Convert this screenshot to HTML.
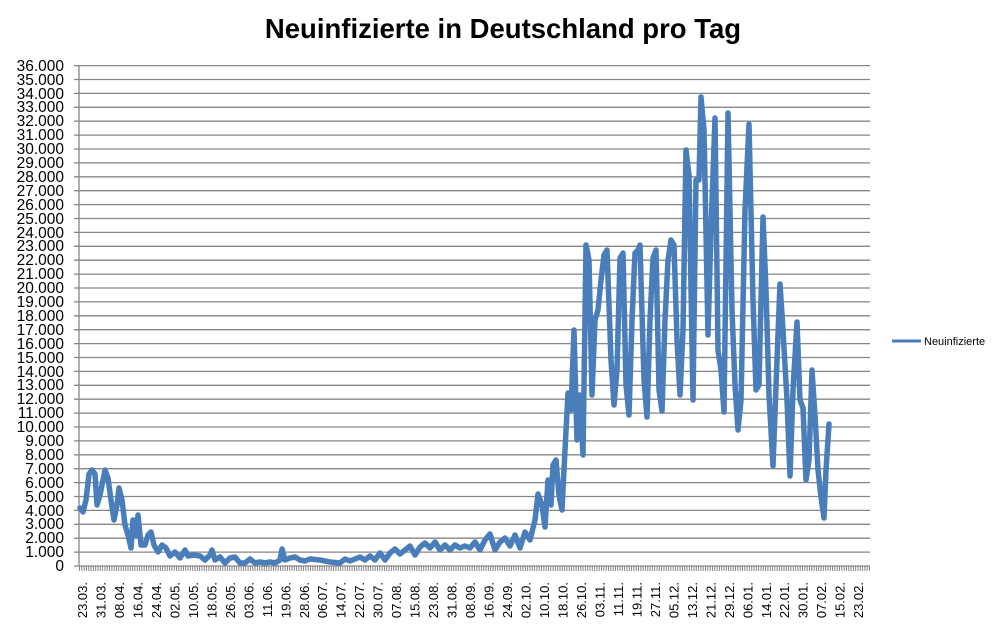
<!DOCTYPE html>
<html><head><meta charset="utf-8"><style>
html,body{margin:0;padding:0;background:#fff;}
svg{display:block;font-family:"Liberation Sans",sans-serif;}
</style></head><body>
<svg width="1003" height="629" viewBox="0 0 1003 629" xmlns="http://www.w3.org/2000/svg">
<text x="503" y="38" text-anchor="middle" font-size="27.5" font-weight="bold" fill="#000">Neuinfizierte in Deutschland pro Tag</text>
<g stroke="#868686" stroke-width="1.3">
<line x1="74" x2="870" y1="65.6" y2="65.6"/><line x1="74" x2="870" y1="79.5" y2="79.5"/><line x1="74" x2="870" y1="93.4" y2="93.4"/><line x1="74" x2="870" y1="107.3" y2="107.3"/><line x1="74" x2="870" y1="121.2" y2="121.2"/><line x1="74" x2="870" y1="135.1" y2="135.1"/><line x1="74" x2="870" y1="149" y2="149"/><line x1="74" x2="870" y1="162.9" y2="162.9"/><line x1="74" x2="870" y1="176.8" y2="176.8"/><line x1="74" x2="870" y1="190.7" y2="190.7"/><line x1="74" x2="870" y1="204.6" y2="204.6"/><line x1="74" x2="870" y1="218.5" y2="218.5"/><line x1="74" x2="870" y1="232.4" y2="232.4"/><line x1="74" x2="870" y1="246.3" y2="246.3"/><line x1="74" x2="870" y1="260.2" y2="260.2"/><line x1="74" x2="870" y1="274.1" y2="274.1"/><line x1="74" x2="870" y1="288" y2="288"/><line x1="74" x2="870" y1="301.9" y2="301.9"/><line x1="74" x2="870" y1="315.8" y2="315.8"/><line x1="74" x2="870" y1="329.7" y2="329.7"/><line x1="74" x2="870" y1="343.6" y2="343.6"/><line x1="74" x2="870" y1="357.5" y2="357.5"/><line x1="74" x2="870" y1="371.4" y2="371.4"/><line x1="74" x2="870" y1="385.3" y2="385.3"/><line x1="74" x2="870" y1="399.2" y2="399.2"/><line x1="74" x2="870" y1="413.1" y2="413.1"/><line x1="74" x2="870" y1="427" y2="427"/><line x1="74" x2="870" y1="440.9" y2="440.9"/><line x1="74" x2="870" y1="454.8" y2="454.8"/><line x1="74" x2="870" y1="468.7" y2="468.7"/><line x1="74" x2="870" y1="482.6" y2="482.6"/><line x1="74" x2="870" y1="496.5" y2="496.5"/><line x1="74" x2="870" y1="510.4" y2="510.4"/><line x1="74" x2="870" y1="524.3" y2="524.3"/><line x1="74" x2="870" y1="538.2" y2="538.2"/><line x1="74" x2="870" y1="552.1" y2="552.1"/><line x1="74" x2="870" y1="566" y2="566"/>
<line x1="79" x2="79" y1="65.6" y2="566"/>
</g>
<line x1="79" x2="870" y1="568.5" y2="568.5" stroke="#868686" stroke-width="5" stroke-dasharray="1 1.31"/>
<g font-size="15.5" text-anchor="end" fill="#000">
<text x="64" y="71">36.000</text><text x="64" y="85">35.000</text><text x="64" y="99">34.000</text><text x="64" y="112">33.000</text><text x="64" y="126">32.000</text><text x="64" y="140">31.000</text><text x="64" y="154">30.000</text><text x="64" y="168">29.000</text><text x="64" y="182">28.000</text><text x="64" y="196">27.000</text><text x="64" y="210">26.000</text><text x="64" y="224">25.000</text><text x="64" y="238">24.000</text><text x="64" y="251">23.000</text><text x="64" y="265">22.000</text><text x="64" y="279">21.000</text><text x="64" y="293">20.000</text><text x="64" y="307">19.000</text><text x="64" y="321">18.000</text><text x="64" y="335">17.000</text><text x="64" y="349">16.000</text><text x="64" y="363">15.000</text><text x="64" y="377">14.000</text><text x="64" y="390">13.000</text><text x="64" y="404">12.000</text><text x="64" y="418">11.000</text><text x="64" y="432">10.000</text><text x="64" y="446">9.000</text><text x="64" y="460">8.000</text><text x="64" y="474">7.000</text><text x="64" y="488">6.000</text><text x="64" y="502">5.000</text><text x="64" y="516">4.000</text><text x="64" y="529">3.000</text><text x="64" y="543">2.000</text><text x="64" y="557">1.000</text><text x="64" y="571">0</text>
</g>
<g font-size="13" text-anchor="end" fill="#000">
<text transform="translate(87,582) rotate(-90)">23.03.</text>
<text transform="translate(105.5,582) rotate(-90)">31.03.</text>
<text transform="translate(124,582) rotate(-90)">08.04.</text>
<text transform="translate(142.4,582) rotate(-90)">16.04.</text>
<text transform="translate(160.9,582) rotate(-90)">24.04.</text>
<text transform="translate(179.4,582) rotate(-90)">02.05.</text>
<text transform="translate(197.9,582) rotate(-90)">10.05.</text>
<text transform="translate(216.4,582) rotate(-90)">18.05.</text>
<text transform="translate(234.8,582) rotate(-90)">26.05.</text>
<text transform="translate(253.3,582) rotate(-90)">03.06.</text>
<text transform="translate(271.8,582) rotate(-90)">11.06.</text>
<text transform="translate(290.3,582) rotate(-90)">19.06.</text>
<text transform="translate(308.8,582) rotate(-90)">28.06.</text>
<text transform="translate(327.2,582) rotate(-90)">06.07.</text>
<text transform="translate(345.7,582) rotate(-90)">14.07.</text>
<text transform="translate(364.2,582) rotate(-90)">22.07.</text>
<text transform="translate(382.7,582) rotate(-90)">30.07.</text>
<text transform="translate(401.2,582) rotate(-90)">07.08.</text>
<text transform="translate(419.6,582) rotate(-90)">15.08.</text>
<text transform="translate(438.1,582) rotate(-90)">23.08.</text>
<text transform="translate(456.6,582) rotate(-90)">31.08.</text>
<text transform="translate(475.1,582) rotate(-90)">08.09.</text>
<text transform="translate(493.6,582) rotate(-90)">16.09.</text>
<text transform="translate(512,582) rotate(-90)">24.09.</text>
<text transform="translate(530.5,582) rotate(-90)">02.10.</text>
<text transform="translate(549,582) rotate(-90)">10.10.</text>
<text transform="translate(567.5,582) rotate(-90)">18.10.</text>
<text transform="translate(586,582) rotate(-90)">26.10.</text>
<text transform="translate(604.4,582) rotate(-90)">03.11.</text>
<text transform="translate(622.9,582) rotate(-90)">11.11.</text>
<text transform="translate(641.4,582) rotate(-90)">19.11.</text>
<text transform="translate(659.9,582) rotate(-90)">27.11.</text>
<text transform="translate(678.4,582) rotate(-90)">05.12.</text>
<text transform="translate(696.8,582) rotate(-90)">13.12.</text>
<text transform="translate(715.3,582) rotate(-90)">21.12.</text>
<text transform="translate(733.8,582) rotate(-90)">29.12.</text>
<text transform="translate(752.3,582) rotate(-90)">06.01.</text>
<text transform="translate(770.8,582) rotate(-90)">14.01.</text>
<text transform="translate(789.2,582) rotate(-90)">22.01.</text>
<text transform="translate(807.7,582) rotate(-90)">30.01.</text>
<text transform="translate(826.2,582) rotate(-90)">07.02.</text>
<text transform="translate(844.7,582) rotate(-90)">15.02.</text>
<text transform="translate(863.2,582) rotate(-90)">23.02.</text>
</g>
<polyline fill="none" stroke="#4a7ebb" stroke-width="5.5" stroke-linejoin="round" stroke-linecap="round" points="80,508 83,512 86,500 89,474 92,470 95,474 97,505 100,495 103,480 105,470 108,478 111,500 114,520 117,505 119,488 122,500 125,525 128,535 131,548 133,520 136,535 138,515 141,545 145,545 148,535 151,532 154,545 158,552 162,545 166,548 170,556 175,552 180,558 185,550 188,556 193,555 200,556 205,560 210,555 212,550 215,560 220,557 225,563 230,558 235,557 240,563 245,563 250,559 255,563 260,562 265,563 270,562 275,563 280,560 282,549 285,560 290,558 295,557 300,560 305,561 310,559 320,560 330,562 340,563 345,559 350,561 355,559 360,557 365,560 370,556 375,560 380,553 385,560 390,553 395,549 400,554 405,550 410,546 415,555 420,547 425,543 430,548 435,542 440,550 445,545 450,550 455,545 460,548 465,546 470,548 475,542 480,550 485,540 490,534 495,550 500,542 505,538 510,546 515,535 520,548 525,532 530,540 535,520 538,494 542,505 545,527 548,480 551,505 553,465 556,460 559,495 562,510 565,450 568,393 571,410 574,330 577,440 580,395 583,455 586,245 589,260 592,395 595,320 598,310 601,280 604,255 607,250 611,360 614,405 617,370 620,258 623,253 626,385 629,415 632,320 635,253 638,250 640,245 644,380 647,417 650,320 653,258 656,250 659,390 662,411 665,320 668,260 671,240 674,245 677,340 680,395 683,330 686,150 689,175 693,400 696,180 699,180 701,97 704,130 708,335 711,230 715,118 718,350 721,370 724,412 728,113 732,310 735,385 738,430 741,400 745,210 749,124 753,300 756,390 759,385 763,217 766,290 769,395 773,466 777,360 780,284 783,330 787,400 790,476 793,390 797,322 800,400 803,408 806,480 809,460 812,370 815,416 818,470 821,497 824,518 826,470 829,424"/>
<line x1="892" x2="921" y1="341" y2="341" stroke="#4a7ebb" stroke-width="3"/>
<text x="924" y="345" font-size="11" fill="#000">Neuinfizierte</text>
</svg>
</body></html>
